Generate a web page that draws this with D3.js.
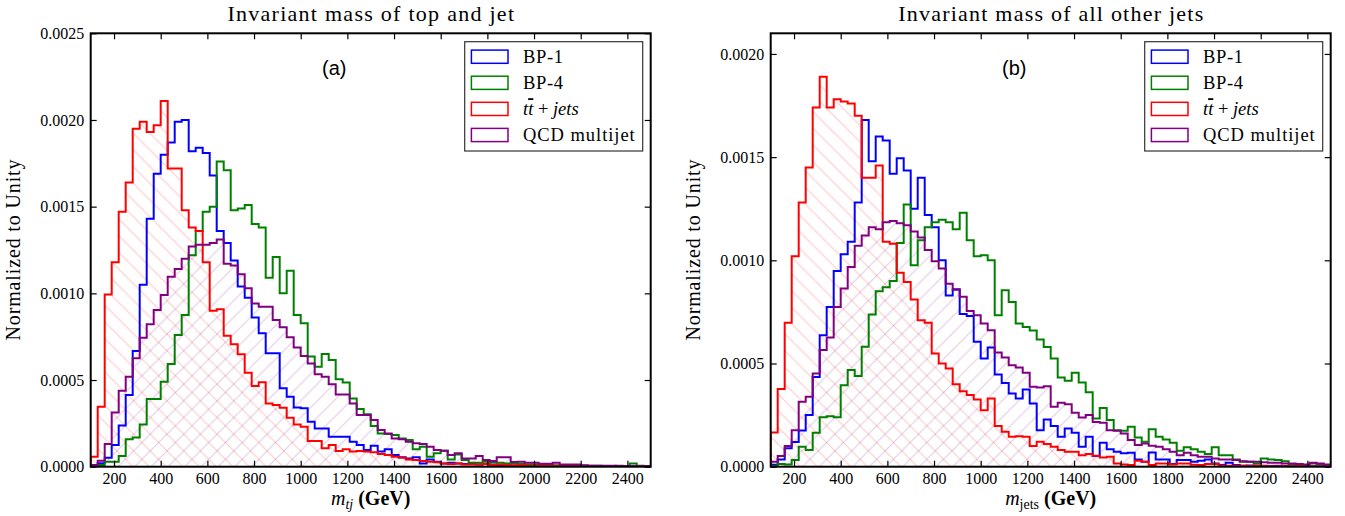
<!DOCTYPE html>
<html><head><meta charset="utf-8">
<script src="https://cdn.jsdelivr.net/npm/d3@7/dist/d3.min.js"></script>
<style>
body{margin:0;background:#fff;}
svg{display:block;font-family:"Liberation Serif","Times New Roman",serif;}
</style></head><body>
<svg id="chart" width="1345" height="516"></svg>
<script>
// ---- data (values in units of 1e-4, 30 GeV bins from 100 to 2500 GeV) ----
const UNIT = 1e-4;
const binStart = 100, binWidth = 30, binCount = 80;
const seriesLabels = ["BP-1", "BP-4", "tt+jets", "QCD multijet"];
const xTicks = [200,400,600,800,1000,1200,1400,1600,1800,2000,2200,2400];
const leftYTicks = [0, 0.0005, 0.0010, 0.0015, 0.0020, 0.0025];
const rightYTicks = [0, 0.0005, 0.0010, 0.0015, 0.0020];

const leftBP1 = [0.1,0.2,0.52,1.25,2.37,4.13,6.67,10.5,14.3,16.9,18.0,18.7,19.9,20.0,18.2,18.4,18.1,16.8,
 13.6,12.9,11.9,10.4,9.75,8.6,7.7,6.54,6.54,4.52,4.04,3.42,3.37,2.6,2.21,2.21,1.73,1.73,
 1.73,1.44,1.25,0.96,1.21,0.87,1.0,0.67,0.54,0.48,0.54,0.19,0.42,0.29,0.19,0.23,0.19,0.15,
 0.17,0.13,0.15,0.13,0.1,0.08,0.06,0.08,0.05,0.06,0.04,0.05,0.03,0.04,0.03,0.02,0.03,0.02,0.02,0.01,0.02,0.01,0.01,0.02,0.01,0.01];
const leftBP4 = [0,0.1,0.29,0.29,0.62,1.58,1.69,2.44,3.9,3.9,4.9,5.92,7.6,8.75,12.2,13.6,14.7,15.0,
 17.6,17.1,14.8,14.9,15.1,14.0,13.8,10.9,12.1,10.0,11.3,8.75,8.27,6.35,5.77,6.5,6.15,5.04,
 4.85,3.94,3.33,3.02,2.35,1.92,1.88,1.83,1.63,1.54,1.0,1.15,0.58,0.77,0.92,0.42,0.71,0.38,
 0.23,0.23,0.29,0.25,0.23,0.19,0.19,0.15,0.13,0.13,0.12,0.1,0.08,0.06,0.08,0.06,0.05,0.05,0.05,0.04,0.04,0.05,0.04,0.19,0.05,0.03];
const leftTT = [0.58,3.46,9.94,11.8,14.7,16.4,19.5,19.9,19.3,19.7,21.1,17.2,17.2,14.8,13.8,13.6,11.8,9.0,
 9.08,7.56,7.06,6.48,5.42,4.65,4.87,3.65,3.56,3.4,2.83,2.44,2.31,1.48,1.48,1.06,1.25,0.9,
 1.0,0.87,0.9,0.87,0.83,0.73,0.67,0.58,0.52,0.42,0.38,0.33,0.29,0.25,0.19,0.15,0.19,0.13,
 0.12,0.13,0.15,0.1,0.12,0.09,0.08,0.08,0.06,0.05,0.05,0.04,0.04,0.03,0.03,0.02,0.02,0.02,0.01,0.01,0.01,0.01,0.01,0.01,0.0,0.01];
const leftQCD = [0.1,0.35,1.31,3.13,4.38,5.19,6.25,7.44,8.21,9.04,9.9,10.96,11.4,12.0,12.7,12.8,12.8,12.9,
 13.1,11.7,11.6,11.1,10.3,9.42,9.23,9.23,8.46,8.04,7.46,6.88,6.38,5.96,5.33,5.19,4.75,4.17,
 4.17,3.65,2.98,2.98,2.69,2.12,1.92,1.63,1.58,1.44,1.35,1.31,1.15,0.96,0.92,0.67,0.77,0.48,
 0.48,0.62,0.38,0.33,0.54,0.54,0.27,0.29,0.23,0.23,0.17,0.17,0.23,0.13,0.13,0.12,0.08,0.06,0.06,0.05,0.05,0.04,0.04,0.03,0.03,0.03];

const rightBP1 = [0.1,0.35,0.9,1.2,1.75,2.5,4.35,6.37,7.74,9.48,10.3,10.9,12.8,16.8,14.8,16.0,15.8,14.2,
 14.95,14.35,12.5,14.0,12.2,11.6,10.0,8.3,8.6,7.4,7.3,6.05,5.24,5.77,4.47,4.06,3.55,3.3,
 3.74,3.06,1.77,2.29,1.97,1.45,1.85,1.65,0.97,1.45,0.52,1.16,0.84,0.73,0.65,0.68,0.35,0.24,
 0.69,0.35,0.35,0.13,0.32,0.32,0.24,0.29,0.35,0.16,0.08,0.19,0.08,0.05,0.06,0.04,0.05,0.03,0.04,0.03,0.02,0.03,0.02,0.02,0.02,0.01];
const rightBP4 = [0.03,0.13,0.11,0.32,0.97,0.81,1.65,2.4,2.45,2.4,3.95,4.68,4.39,5.81,7.37,8.5,8.7,9.0,
 10.84,12.7,9.76,10.97,11.6,11.85,11.97,11.85,11.5,12.3,10.97,10.2,10.24,10.0,7.34,8.55,7.98,6.94,
 6.77,6.6,6.16,5.8,5.24,4.32,4.16,4.55,4.08,3.61,2.34,2.85,2.26,1.77,1.74,1.94,1.42,1.21,
 1.81,1.45,1.32,1.16,0.77,0.94,0.85,0.73,0.61,0.94,0.56,0.56,0.35,0.24,0.24,0.16,0.4,0.35,0.32,0.26,0.13,0.08,0.08,0.16,0.13,0.08];
const rightTT = [1.66,3.76,6.97,10.2,12.8,14.5,17.4,18.9,17.4,17.8,17.7,17.6,17.0,14.0,14.0,14.6,10.9,10.8,
 9.4,8.95,8.1,7.1,6.97,5.48,5.0,4.76,4.0,3.66,3.47,3.26,2.74,3.31,1.97,1.69,1.45,1.48,
 1.45,1.0,1.21,1.1,0.97,0.81,0.73,0.73,0.56,0.61,0.53,0.45,0.48,0.16,0.11,0.08,0.29,0.24,
 0.08,0.16,0.16,0.11,0.16,0.15,0.1,0.08,0.13,0.13,0.05,0.05,0.04,0.04,0.03,0.04,0.03,0.02,0.02,0.02,0.01,0.02,0.01,0.01,0.01,0.01];
const rightQCD = [0.24,0.52,1.0,1.77,3.15,3.39,4.52,5.65,6.26,7.74,8.63,9.68,10.7,11.2,11.6,11.5,11.85,11.9,
 11.8,11.7,11.4,11.1,10.5,9.95,9.6,8.87,8.58,8.23,7.55,7.34,6.94,6.61,5.53,5.29,4.92,4.81,
 4.55,3.87,3.84,3.9,2.9,3.1,3.03,2.61,2.39,2.5,2.16,2.13,1.77,1.74,1.61,1.29,1.05,1.13,
 1.02,0.97,0.85,0.73,0.56,0.68,0.56,0.48,0.48,0.4,0.35,0.35,0.32,0.26,0.24,0.24,0.21,0.19,0.19,0.16,0.16,0.13,0.11,0.19,0.16,0.11];

// ---- styling ----
const colors = ["#0000ff", "#008000", "#ff0000", "#800080"];
const svg = d3.select("#chart");
const defs = svg.append("defs");
const S = 16.7;
function hatch(id, color, dir) {
  const p = defs.append("pattern").attr("id", id).attr("patternUnits", "userSpaceOnUse")
    .attr("width", S).attr("height", S);
  const d = dir === "back"
    ? `M${-S/2},${S/2} L${S/2},${1.5*S} M0,0 L${S},${S} M${S/2},${-S/2} L${1.5*S},${S/2}`
    : `M${-S/2},${S/2} L${S/2},${-S/2} M0,${S} L${S},0 M${S/2},${1.5*S} L${1.5*S},${S/2}`;
  p.append("path").attr("d", d).attr("stroke", color).attr("stroke-width", 1).attr("fill", "none");
}
hatch("hatchRed", "rgba(255,0,0,0.22)", "back");
hatch("hatchPurple", "rgba(128,0,128,0.22)", "fwd");

const panels = [
  {id:"L", left:90.7, right:650.7, top:33.3, bottom:466.7, yMax:0.0025, yTicks:leftYTicks,
   title:"Invariant mass of top and jet", titleW:286.6, tag:"(a)",
   sub:"tj", subItalic:true, data:[leftBP1,leftBP4,leftTT,leftQCD]},
  {id:"R", left:770.7, right:1330.7, top:33.3, bottom:466.7, yMax:0.0021, yTicks:rightYTicks,
   title:"Invariant mass of all other jets", titleW:305, tag:"(b)",
   sub:"jets", subItalic:false, data:[rightBP1,rightBP4,rightTT,rightQCD]}
];

const edges = d3.range(binCount + 1).map(i => binStart + i * binWidth);

panels.forEach(P => {
  const x = d3.scaleLinear().domain([100, 2500]).range([P.left, P.right]);
  const y = d3.scaleLinear().domain([0, P.yMax]).range([P.bottom, P.top]);
  const g = svg.append("g");
  defs.append("clipPath").attr("id", "clip" + P.id).append("rect")
    .attr("x", P.left).attr("y", P.top).attr("width", P.right - P.left).attr("height", P.bottom - P.top);
  const plot = g.append("g").attr("clip-path", `url(#clip${P.id})`);

  const line = d3.line().x(d => x(d[0])).y(d => y(d[1]));
  const pts = vals => {
    const a = [[edges[0], 0]];
    vals.forEach((v, i) => { a.push([edges[i], v * UNIT]); a.push([edges[i + 1], v * UNIT]); });
    a.push([edges[binCount], 0]);
    return a;
  };
  // hatched fills
  plot.append("path").attr("d", line(pts(P.data[2])) + "Z").attr("fill", "url(#hatchRed)").attr("stroke", "none");
  plot.append("path").attr("d", line(pts(P.data[3])) + "Z").attr("fill", "url(#hatchPurple)").attr("stroke", "none");
  // step outlines
  P.data.forEach((vals, si) => {
    plot.append("path").attr("d", line(pts(vals))).attr("fill", "none")
      .attr("stroke", colors[si]).attr("stroke-width", 2).attr("stroke-linejoin", "miter");
  });

  // axes
  const fmt = d3.format(".4f");
  const ax = (sel) => sel.attr("font-family", "Liberation Serif, serif").attr("font-size", 16);
  g.append("g").attr("transform", `translate(0,${P.bottom})`)
    .call(d3.axisBottom(x).tickValues(xTicks).tickSizeInner(-6).tickSizeOuter(0).tickPadding(6).tickFormat(d3.format("d")))
    .call(ax);
  g.append("g").attr("transform", `translate(0,${P.top})`)
    .call(d3.axisTop(x).tickValues(xTicks).tickSizeInner(-6).tickSizeOuter(0).tickFormat(""));
  g.append("g").attr("transform", `translate(${P.left},0)`)
    .call(d3.axisLeft(y).tickValues(P.yTicks).tickSizeInner(-6).tickSizeOuter(0).tickPadding(6.5).tickFormat(fmt))
    .call(ax);
  g.append("g").attr("transform", `translate(${P.right},0)`)
    .call(d3.axisRight(y).tickValues(P.yTicks).tickSizeInner(-6).tickSizeOuter(0).tickFormat(""));
  g.selectAll(".domain").remove();
  g.selectAll(".tick line").attr("stroke", "#000").attr("stroke-width", 1.2);
  g.selectAll(".tick text").attr("fill", "#000");
  g.append("rect").attr("x", P.left).attr("y", P.top).attr("width", P.right - P.left)
    .attr("height", P.bottom - P.top).attr("fill", "none").attr("stroke", "#000").attr("stroke-width", 2);

  const cx = (P.left + P.right) / 2;
  // title
  g.append("text").attr("x", cx).attr("y", 21).attr("text-anchor", "middle")
    .attr("font-size", 22).attr("textLength", P.titleW).attr("lengthAdjust", "spacing").text(P.title);
  // panel tag
  g.append("text").attr("x", P.left + 0.435 * (P.right - P.left)).attr("y", 75).attr("text-anchor", "middle")
    .attr("font-family", "Liberation Sans, Arial, sans-serif").attr("font-size", 20).text(P.tag);
  // y label
  g.append("text").attr("transform", `translate(${P.left - 71},${(P.top + P.bottom) / 2}) rotate(-90)`)
    .attr("text-anchor", "middle").attr("font-size", 20).attr("textLength", 181).attr("lengthAdjust", "spacing")
    .text("Normalized to Unity");
  // x label
  const xl = g.append("text").attr("x", cx).attr("y", 505).attr("text-anchor", "middle").attr("font-size", 20);
  xl.append("tspan").attr("font-style", "italic").text("m");
  xl.append("tspan").attr("font-style", P.subItalic ? "italic" : "normal").attr("font-size", 14).attr("dy", 4).text(P.sub);
  xl.append("tspan").attr("dy", -4).attr("font-weight", "bold").text(" (GeV)");

  // legend
  const lx = P.right - 186, ly = P.top + 8.4, lw = 178, lh = 109.3;
  const lg = g.append("g");
  lg.append("rect").attr("x", lx).attr("y", ly).attr("width", lw).attr("height", lh)
    .attr("fill", "#fff").attr("stroke", "#333").attr("stroke-width", 1.2);
  const labelW = [40, 40, 64.3, 111.7];
  seriesLabels.forEach((lab, i) => {
    const yc = ly + 15 + i * 26.1;
    lg.append("rect").attr("x", lx + 6.7).attr("y", yc - 6.6).attr("width", 36.6).attr("height", 13.2)
      .attr("fill", "#fff").attr("stroke", colors[i]).attr("stroke-width", 1.5);
    const t = lg.append("text").attr("x", lx + 58.3).attr("y", yc + 6.3).attr("font-size", 18.5);
    if (i === 2) {
      t.append("tspan").attr("font-style", "italic").text("t");
      t.append("tspan").attr("font-style", "italic").attr("text-decoration", "overline").text("t");
      t.append("tspan").text(" + ");
      t.append("tspan").attr("font-style", "italic").text("jets");
    } else {
      t.attr("textLength", labelW[i]).attr("lengthAdjust", "spacing").text(lab);
    }
  });
});
</script>
</body></html>
